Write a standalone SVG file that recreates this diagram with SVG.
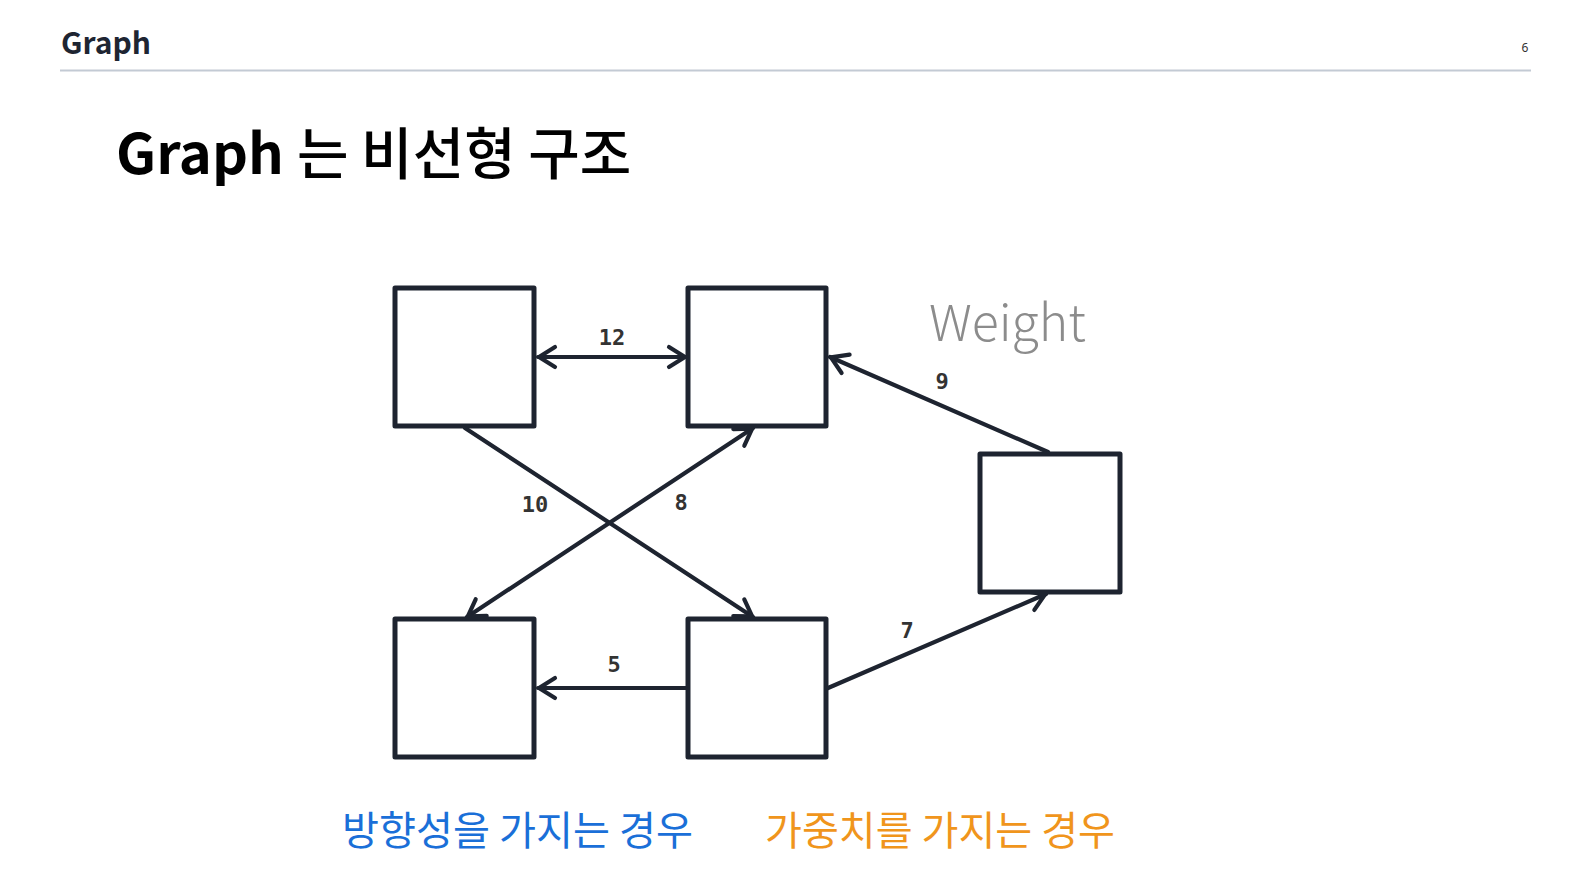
<svg xmlns="http://www.w3.org/2000/svg" width="1592" height="870" viewBox="0 0 1592 870">
<style>
.node rect{fill:#ffffff;stroke:#1e2430;stroke-width:5;stroke-linejoin:round}
.edge{fill:none;stroke:#1e2430;stroke-width:4.2;stroke-linecap:round}
.w{font-family:"DejaVu Sans Mono","Liberation Mono",monospace;font-weight:bold;font-size:22px;fill:#333333;text-anchor:middle}
.kr{font-family:"Noto Sans CJK KR","Noto Sans",sans-serif}
</style>
<defs>
<marker id="arr" viewBox="-20 -20 40 40" refX="1" refY="0" markerWidth="40" markerHeight="40" markerUnits="userSpaceOnUse" orient="auto-start-reverse">
<path d="M -16 -10 L 0 0 L -16 10" fill="none" stroke="#1e2430" stroke-width="4.2" stroke-linecap="round" stroke-linejoin="round"/>
</marker>
</defs>
<rect width="1592" height="870" fill="#ffffff"/>
<g id="header">
<text x="61" y="54" class="kr" font-size="30" font-weight="bold" fill="#1e2532">Graph</text>
<line x1="60" y1="70.5" x2="1531" y2="70.5" stroke="#c3cad4" stroke-width="2"/>
<text x="1525" y="52" font-family="Noto Sans, sans-serif" font-size="12" fill="#333" text-anchor="middle">6</text>
</g>
<g id="title">
<text x="116" y="174" class="kr"><tspan font-size="56" font-weight="bold" fill="#000">Graph</tspan><tspan x="297" font-size="56" font-weight="500" fill="#000">는 비선형 구조</tspan></text>
</g>
<g id="connectors">
<line class="edge" x1="538" y1="357" x2="686" y2="357" marker-start="url(#arr)" marker-end="url(#arr)"/>
<line class="edge" x1="465" y1="428" x2="753" y2="617" marker-end="url(#arr)"/>
<line class="edge" x1="467" y1="617" x2="753" y2="428" marker-start="url(#arr)" marker-end="url(#arr)"/>
<line class="edge" x1="1048" y1="452" x2="830" y2="357" marker-end="url(#arr)"/>
<line class="edge" x1="828" y1="688" x2="1046" y2="594" marker-end="url(#arr)"/>
<line class="edge" x1="686" y1="688" x2="538" y2="688" marker-end="url(#arr)"/>
<text class="w" x="612" y="345">12</text>
<text class="w" x="535" y="512">10</text>
<text class="w" x="681" y="510">8</text>
<text class="w" x="942" y="389">9</text>
<text class="w" x="907" y="638">7</text>
<text class="w" x="614" y="672">5</text>
</g>
<g id="n1" class="node"><rect x="395" y="288" width="139" height="138"/></g>
<g id="n2" class="node"><rect x="688" y="288" width="138" height="138"/></g>
<g id="n3" class="node"><rect x="980" y="454" width="140" height="138"/></g>
<g id="n4" class="node"><rect x="395" y="619" width="139" height="138"/></g>
<g id="n5" class="node"><rect x="688" y="619" width="138" height="138"/></g>
<g id="weight-label">
<text x="929" y="341" class="kr" font-size="50" font-weight="300" fill="#8c8c8c">Weight</text>
</g>
<g id="captions">
<text x="342" y="845" class="kr" font-size="40" fill="#1a6fd8" textLength="351" lengthAdjust="spacingAndGlyphs">방향성을 가지는 경우</text>
<text x="765" y="845" class="kr" font-size="40" fill="#f0951c" textLength="350" lengthAdjust="spacingAndGlyphs">가중치를 가지는 경우</text>
</g>
</svg>
